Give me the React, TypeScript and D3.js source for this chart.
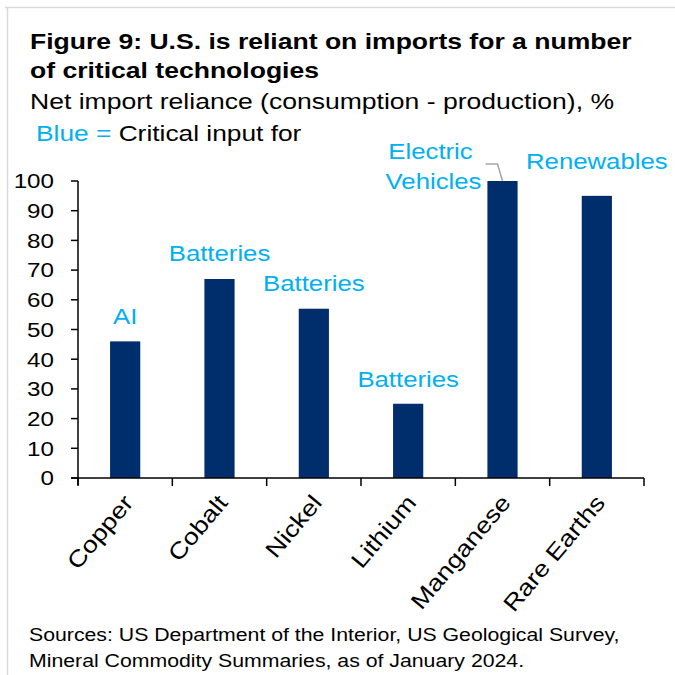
import React from "react";
import * as d3 from "d3";

const categories = ["Copper", "Cobalt", "Nickel", "Lithium", "Manganese", "Rare Earths"];
const values = [46, 67, 57, 25, 100, 95];
const yTicks = [0, 10, 20, 30, 40, 50, 60, 70, 80, 90, 100];
const annotations = [["AI"], ["Batteries"], ["Batteries"], ["Batteries"], ["Electric", "Vehicles"], ["Renewables"]];

const FONT = "'Liberation Sans', Arial, sans-serif";
const BLUE = "#00B0F0";
const NAVY = "#002D6B";
const SX = 1.17;

type TProps = {
  x: number; y: number; size: number; anchor?: string; weight?: string; fill?: string; rotate?: number; sx?: number; dy?: string; children: React.ReactNode;
};
function T({ x, y, size, anchor = "start", weight = "normal", fill = "#000", rotate = 0, sx = SX, dy, children }: TProps) {
  return (
    <text
      transform={`translate(${x},${y}) rotate(${rotate}) scale(${sx},1)`}
      textAnchor={anchor}
      fontSize={size}
      fontWeight={weight}
      fill={fill}
      dy={dy}
    >
      {children}
    </text>
  );
}

export default function App() {
  const W = 675, H = 675;
  const x = d3.scaleBand<string>().domain(categories).range([78, 644]).paddingInner(0.68).paddingOuter(0.34);
  const y = d3.scaleLinear().domain([0, 100]).range([478, 181]);
  const bw = x.bandwidth();
  const step = x.step();
  const x0 = 78;

  const annPos: { dx: number; dy: number }[] = [
    { dx: 0, dy: -17 },
    { dx: 0, dy: -18 },
    { dx: 0, dy: -18 },
    { dx: 0, dy: -17 },
    { dx: -72, dy: 8 },
    { dx: 0, dy: -27 },
  ];

  return (
    <div style={{ position: "absolute", left: 0, top: 0 }}>
      <svg width={W} height={H} style={{ display: "block", background: "#fff" }} fontFamily={FONT}>
        <line x1={5} x2={675} y1={7.5} y2={7.5} stroke="#d9d9d9" strokeWidth={1.5} />
        <line x1={7.5} x2={7.5} y1={7} y2={675} stroke="#d9d9d9" strokeWidth={1.5} />

        <T x={30} y={49} size={22.5} weight="bold" sx={1.18}>Figure 9: U.S. is reliant on imports for a number</T>
        <T x={30} y={78} size={22.5} weight="bold" sx={1.18}>of critical technologies</T>
        <T x={30} y={109} size={22.5} sx={1.18}>Net import reliance (consumption - production), %</T>
        <T x={36} y={141} size={22.5} sx={1.17}>
          <tspan fill={BLUE}>Blue = </tspan>Critical input for
        </T>

        {/* bars */}
        {categories.map((c, i) => (
          <rect key={c} x={x(c)} y={y(values[i])} width={bw} height={y(0) - y(values[i])} fill={NAVY} />
        ))}

        {/* y axis */}
        <line x1={x0} x2={x0} y1={y(100)} y2={y(0) + 7} stroke="#000" strokeWidth={1.5} />
        {yTicks.map((t) => (
          <g key={t}>
            <line x1={x0 - 7} x2={x0} y1={y(t)} y2={y(t)} stroke="#000" strokeWidth={1.5} />
            <T x={x0 - 24} y={y(t)} dy="0.36em" anchor="end" size={20.5} sx={1.18}>{t}</T>
          </g>
        ))}

        {/* x axis */}
        <line x1={x0 - 7} x2={644} y1={y(0)} y2={y(0)} stroke="#000" strokeWidth={1.5} />
        {d3.range(categories.length + 1).map((i) => (
          <line key={i} x1={x0 + i * step} x2={x0 + i * step} y1={y(0)} y2={y(0) + 8} stroke="#000" strokeWidth={1.5} />
        ))}
        {categories.map((c) => {
          const cx = (x(c) as number) + bw / 2 - 3;
          const cy = y(0) + 15;
          return (
            <T key={c} x={cx} y={cy} rotate={-50} anchor="end" dy="0.7em" size={23} sx={1.17}>{c}</T>
          );
        })}

        {/* annotations */}
        {categories.map((c, i) => {
          const cx = (x(c) as number) + bw / 2 + annPos[i].dx;
          const lines = annotations[i];
          const baseY = y(values[i]) + annPos[i].dy;
          return (
            <g key={c}>
              {lines.map((l, j) => (
                <T key={j} x={cx + (j === 1 ? 3 : 0)} y={baseY - (lines.length - 1 - j) * 30} anchor="middle" size={22} fill={BLUE} sx={1.17}>{l}</T>
              ))}
            </g>
          );
        })}
        {/* leader line for Manganese */}
        {(() => {
          const cx = (x("Manganese") as number) + bw / 2;
          const top = y(values[4]);
          return (
            <polyline points={`${cx - 17},${top - 17} ${cx - 5},${top - 17} ${cx},${top}`} fill="none" stroke="#a6a6a6" strokeWidth={1.5} />
          );
        })()}

        <T x={29} y={641} size={18.5} sx={1.15}>Sources: US Department of the Interior, US Geological Survey,</T>
        <T x={29} y={667} size={18.5} sx={1.15}>Mineral Commodity Summaries, as of January 2024.</T>
      </svg>
    </div>
  );
}
